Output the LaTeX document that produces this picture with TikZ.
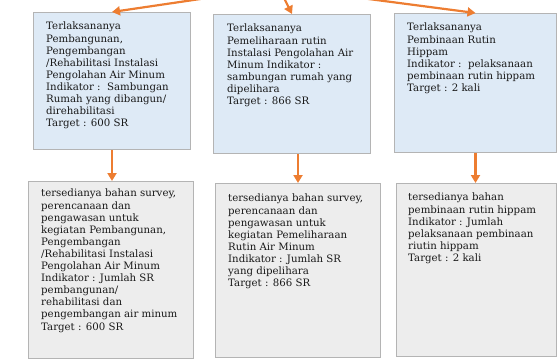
\documentclass[tikz,border=0pt]{standalone}
\usepackage{fontspec}
\setmainfont{DejaVu Serif}
\usetikzlibrary{arrows.meta}
\definecolor{boxblue}{HTML}{DEEAF6}
\definecolor{boxgray}{HTML}{EDEDED}
\definecolor{edgegray}{HTML}{B4B4B4}
\definecolor{arrorange}{HTML}{ED7D31}
\begin{document}
\begin{tikzpicture}[x=1pt,y=-1pt,
  topbox/.style={draw=edgegray,fill=boxblue,line width=1pt,inner sep=0pt,anchor=north west},
  botbox/.style={draw=edgegray,fill=boxgray,line width=1pt,inner sep=0pt,anchor=north west},
  txt/.style={anchor=north west,inner sep=0pt,align=left,font=\fontsize{10.2}{12.1}\selectfont,text=black!90},
  arr/.style={draw=arrorange,line width=2.2pt,-{Triangle[length=8pt,width=9pt]}}]
\useasboundingbox (0,0) rectangle (557,361);
% top boxes
\node[topbox,minimum width=157pt,minimum height=137pt] (b1) at (33,12) {};
\node[topbox,minimum width=157pt,minimum height=139pt] (b2) at (213,14) {};
\node[topbox,minimum width=162pt,minimum height=139pt] (b3) at (394,13) {};
% bottom boxes
\node[botbox,minimum width=165pt,minimum height=177pt] (b4) at (28,181) {};
\node[botbox,minimum width=165pt,minimum height=174pt] (b5) at (215,183) {};
\node[botbox,minimum width=160pt,minimum height=173pt] (b6) at (396,183) {};
% texts
\node[txt] (t1) at (46,22) {Terlaksananya\\Pembangunan,\\Pengembangan\\/Rehabilitasi Instalasi\\Pengolahan Air Minum\\Indikator :\ \ Sambungan\\Rumah yang dibangun/\\direhabilitasi\\Target : 600 SR};
\node[txt] (t2) at (227,24) {Terlaksananya\\Pemeliharaan rutin\\Instalasi Pengolahan Air\\Minum Indikator :\\sambungan rumah yang\\dipelihara\\Target : 866 SR};
\node[txt] (t3) at (407,23) {Terlaksananya\\Pembinaan Rutin\\Hippam\\Indikator :\ \ pelaksanaan\\pembinaan rutin hippam\\Target : 2 kali};
\node[txt] (t4) at (41,189) {tersedianya bahan survey,\\perencanaan dan\\pengawasan untuk\\kegiatan Pembangunan,\\Pengembangan\\/Rehabilitasi Instalasi\\Pengolahan Air Minum\\Indikator : Jumlah SR\\pembangunan/\\rehabilitasi dan\\pengembangan air minum\\Target : 600 SR};
\node[txt] (t5) at (228,194) {tersedianya bahan survey,\\perencanaan dan\\pengawasan untuk\\kegiatan Pemeliharaan\\Rutin Air Minum\\Indikator : Jumlah SR\\yang dipelihara\\Target : 866 SR};
\node[txt] (t6) at (408,193) {tersedianya bahan\\pembinaan rutin hippam\\Indikator : Jumlah\\pelaksanaan pembinaan\\riutin hippam\\Target : 2 kali};
% arrows from above
\coordinate (s1) at (207,-2);
\coordinate (s2) at (284,-2);
\coordinate (s3) at (361,-2);
\draw[arr] (s1) -- (b1.north);
\draw[arr] (s2) -- (b2.north);
\draw[arr] (s3) -- (b3.north);
% vertical arrows
\draw[arr] (b1.south) -- (b1.south |- b4.north);
\draw[arr] (b5.north |- b2.south) -- (b5.north);
\draw[arr] (b3.south) -- (b3.south |- b6.north);
\end{tikzpicture}
\end{document}
